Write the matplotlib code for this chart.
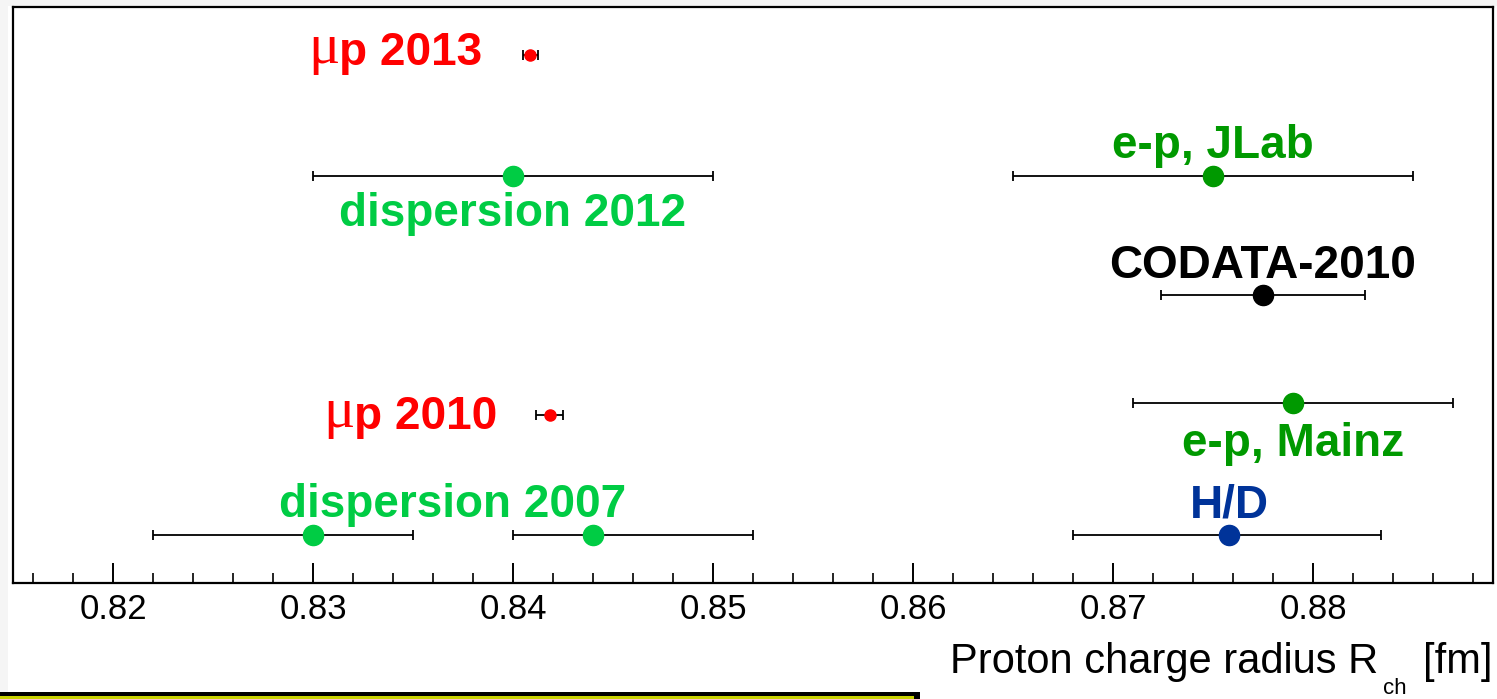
import numpy as np
import matplotlib.pyplot as plt
from matplotlib.patches import Rectangle

# proton charge radius determinations [fm]
radius = [0.84087, 0.840, 0.875, 0.8775, 0.879, 0.84184, 0.830, 0.844, 0.8758]
err_lo = [0.00039, 0.010, 0.010, 0.0051, 0.008, 0.00067, 0.008, 0.004, 0.0078]
err_hi = [0.00039, 0.010, 0.010, 0.0051, 0.008, 0.00067, 0.005, 0.008, 0.0076]
row = [9.17, 7.07, 7.07, 5.0, 3.125, 2.92, 0.83, 0.83, 0.83]
kind = ["mu", "disp", "ep", "codata", "ep", "mu", "disp", "disp", "hd"]

colors = {"mu": "#ff0000", "disp": "#00cc44", "ep": "#009900",
          "codata": "#000000", "hd": "#003399"}

xticks = [0.82, 0.83, 0.84, 0.85, 0.86, 0.87, 0.88]

plt.rcParams['font.family'] = ['Liberation Sans', 'DejaVu Sans']

fig = plt.figure(figsize=(14.97, 6.99), dpi=100, facecolor='white')
ax = fig.add_axes([13 / 1497, 1 - 583 / 699, 1480 / 1497, 576 / 699])

for x, lo, hi, y, k in zip(radius, err_lo, err_hi, row, kind):
    ms = 8 if k == "mu" else 14.5
    ax.errorbar(x, y, xerr=[[lo], [hi]], fmt='o', color=colors[k], ms=ms,
                ecolor='black', elinewidth=1.3, capsize=3.5, capthick=1.3,
                zorder=3)

bold = dict(fontsize=33, fontweight='bold', textcoords='offset points')

# muonic hydrogen labels: bold "p ...", symbol-style mu in front
for i, txt, dx, dy in [(0, "p 2013", -34.5, -7.2), (5, "p 2010", -37.5, -10.0)]:
    t = ax.annotate(txt, xy=(radius[i], row[i]), xytext=(dx, dy), ha='right',
                    va='baseline', color=colors["mu"], **bold)
    ax.annotate("μ", xy=(0, 0), xycoords=t, ha='right', va='bottom',
                fontsize=42, family='Liberation Serif', color=colors["mu"])

ax.annotate("dispersion 2012", xy=(radius[1], row[1]), xytext=(0, -36),
            ha='center', va='baseline', color=colors["disp"], **bold)
ax.annotate("e-p, JLab", xy=(radius[2], row[2]), xytext=(0, 13),
            ha='center', va='baseline', color=colors["ep"], **bold)
ax.annotate("CODATA-2010", xy=(radius[3], row[3]), xytext=(0, 12.2),
            ha='center', va='baseline', color=colors["codata"], **bold)
ax.annotate("e-p, Mainz", xy=(radius[4], row[4]), xytext=(0, -38),
            ha='center', va='baseline', color=colors["ep"], **bold)
ax.annotate("dispersion 2007", xy=((radius[6] + radius[7]) / 2, row[6]),
            xytext=(0, 13), ha='center', va='baseline',
            color=colors["disp"], **bold)
ax.annotate("H/D", xy=(radius[8], row[8]), xytext=(0, 13),
            ha='center', va='baseline', color=colors["hd"], **bold)

ax.set_xlim(0.815, 0.889)
ax.set_ylim(0, 10)
ax.set_xticks(xticks)
ax.set_xticklabels(["%.2f" % v for v in xticks])
ax.set_xticks(np.arange(0.816, 0.889, 0.002), minor=True)
ax.set_yticks([])
ax.tick_params(axis='x', which='major', direction='in', length=14.4,
               width=1.4, labelsize=25, pad=7)
ax.tick_params(axis='x', which='minor', direction='in', length=7.2, width=1.2)
for s in ax.spines.values():
    s.set_linewidth(1.6)

# axis title, with the subscript set well below the baseline
fig.text(1492 / 1497, 1 - 673 / 699, "[fm]", ha='right', va='baseline', fontsize=30)
fig.text(1395 / 1497, 1 - 694 / 699, "ch", ha='center', va='baseline', fontsize=16)
fig.text(1378 / 1497, 1 - 673 / 699, "Proton charge radius R", ha='right',
         va='baseline', fontsize=30)

# page edges
fig.patches.append(Rectangle((0, 0), 8 / 1497, 1, transform=fig.transFigure,
                             facecolor='#f5f5f5', edgecolor='none', zorder=-1))
fig.patches.append(Rectangle((0, 1 - 6 / 699), 1, 6 / 699, transform=fig.transFigure,
                             facecolor='#f5f5f5', edgecolor='none', zorder=-1))
fig.patches.append(Rectangle((0, 0), 920 / 1497, 7 / 699, transform=fig.transFigure,
                             facecolor='black', edgecolor='none'))
fig.patches.append(Rectangle((0, 0), 914 / 1497, 3 / 699, transform=fig.transFigure,
                             facecolor='#c8d200', edgecolor='none'))

fig.savefig('out.png', dpi=100, facecolor=fig.get_facecolor())
